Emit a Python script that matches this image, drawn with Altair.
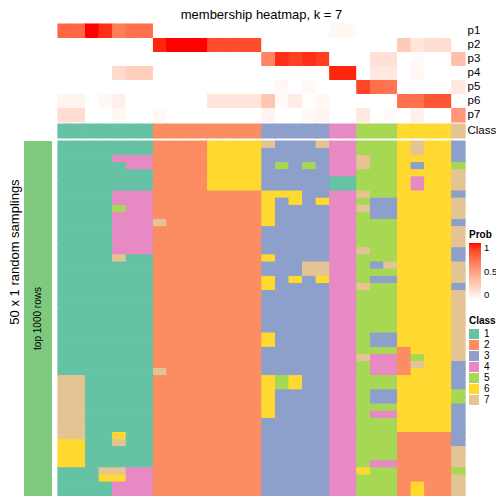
import altair as alt
import pandas as pd

FONT = "Liberation Sans"

# class of each of the 30 samples (columns) in the "Class" annotation row
col_class = "111111122222222333334455566667"

# membership probabilities p1..p7 for the 30 columns
p1 = [0.76, 0.76, 1.00, 0.94, 0.66, 0.72, 0.72, 0, 0, 0, 0, 0, 0, 0, 0,
      0, 0, 0, 0, 0, 0.04, 0.04, 0, 0, 0, 0, 0, 0, 0, 0]
p2 = [0, 0, 0, 0, 0, 0, 0, 0.96, 1.00, 1.00, 1.00, 0.86, 0.86, 0.86, 0.86,
      0, 0, 0, 0, 0, 0, 0, 0, 0, 0, 0.28, 0.14, 0.18, 0.18, 0]
p3 = [0, 0, 0, 0, 0, 0, 0, 0, 0, 0, 0, 0, 0, 0, 0,
      0.62, 0.94, 0.90, 0.94, 0.90, 0, 0, 0, 0.16, 0.16, 0, 0.02, 0, 0, 0.34]
p4 = [0, 0, 0, 0, 0.20, 0.26, 0.26, 0, 0, 0, 0, 0, 0, 0, 0,
      0, 0, 0, 0, 0, 0.96, 0.96, 0, 0.12, 0.12, 0, 0.04, 0, 0, 0]
p5 = [0, 0, 0, 0, 0, 0, 0, 0, 0, 0, 0, 0, 0, 0, 0,
      0, 0.04, 0, 0.03, 0, 0, 0, 0.88, 0.72, 0.70, 0, 0, 0, 0, 0.12]
p6 = [0.06, 0.06, 0, 0.04, 0.08, 0, 0, 0, 0, 0, 0, 0.14, 0.14, 0.14, 0.14,
      0.30, 0.02, 0.10, 0, 0.04, 0, 0, 0, 0, 0, 0.72, 0.72, 0.82, 0.82, 0]
p7 = [0.18, 0.18, 0, 0, 0.04, 0, 0, 0.04, 0, 0, 0, 0, 0, 0, 0,
      0.06, 0, 0, 0.03, 0.06, 0, 0, 0.12, 0, 0.02, 0, 0.08, 0, 0, 0.54]
prob_names = ["p1", "p2", "p3", "p4", "p5", "p6", "p7"]
prob_values = [p1, p2, p3, p4, p5, p6, p7]

# class assigned in each of the 50 random samplings (rows) for the 30 columns
samplings = [
    "1111111 22226666 73337 44 555 6766 3",
    "1111111 22226666 33333 44 555 6766 3",
    "1111444 22226666 33333 44 755 6666 3",
    "1111144 22226666 35353 44 755 6366 5",
    "1111111 22226666 33333 44 555 6666 7",
    "1111111 22226666 33333 11 555 6466 7",
    "1111111 22226666 33333 11 555 6466 7",
    "1111444 22222222 66633 44 755 6666 3",
    "1111444 22222222 63636 44 533 6666 7",
    "1111544 22222222 63333 44 733 6666 7",
    "1111444 22222222 63333 44 533 6666 7",
    "1111444 72222222 63333 44 555 6666 3",
    "1111444 22222222 33333 44 555 6666 7",
    "1111444 22222222 33333 44 555 6666 7",
    "1111444 22222222 33333 44 555 6666 7",
    "1111444 22222222 33333 44 755 6666 3",
    "1111711 22222222 63333 44 555 6666 3",
    "1111111 22222222 33377 44 537 6666 7",
    "1111111 22222222 33377 44 555 6666 7",
    "1111111 22222222 63636 44 533 6666 7",
    "1111111 22222222 63333 44 755 6666 3",
    "1111111 22222222 33333 44 555 6666 7",
    "1111111 22222222 33333 44 555 6666 7",
    "1111111 22222222 33333 44 555 6666 7",
    "1111111 22222222 33333 44 555 6666 7",
    "1111111 22222222 33333 44 555 6666 7",
    "1111111 22222222 33333 44 555 6666 7",
    "1111111 22222222 63333 44 533 6666 7",
    "1111111 22222222 63333 44 533 6666 7",
    "1111111 22222222 33333 44 555 2666 7",
    "1111111 22222222 33333 44 744 2566 7",
    "1111111 22222222 33333 44 544 2766 3",
    "1111111 72222222 33333 44 544 2666 3",
    "7711111 22222222 65633 44 555 6666 3",
    "7711111 22222222 65633 44 555 6666 3",
    "7711111 22222222 63333 44 533 6666 5",
    "7711111 22222222 63333 44 533 6666 5",
    "7711111 22222222 63333 44 555 6666 3",
    "7711111 22222222 63333 44 544 6666 3",
    "7711111 22222222 33333 44 555 6666 3",
    "7711111 22222222 33333 44 555 6666 3",
    "7711611 22222222 33333 44 555 2222 3",
    "6611711 22222222 33333 44 555 2222 3",
    "6611111 22222222 33333 44 555 2222 7",
    "6611111 22222222 33333 44 555 2222 7",
    "6611111 22222222 33333 44 544 2222 7",
    "1117744 22222222 33333 44 655 2222 5",
    "1116644 22222222 33333 44 555 2222 7",
    "1111444 22222222 33333 44 555 2622 7",
    "1111444 22222222 33333 44 555 2622 7",
]

class_names = ["1", "2", "3", "4", "5", "6", "7"]
class_colors = ["#66C2A5", "#FC8D62", "#8DA0CB", "#E78AC3",
                "#A6D854", "#FFD92F", "#E5C494"]

title_text = "membership heatmap, k = 7"
row_title_text = "50 x 1 random samplings"
anno_text = "top 1000 rows"

# ---------------- tables ----------------
n_cols = len(col_class)
memb_recs = []
for k, vals in enumerate(prob_values):
    for c, v in enumerate(vals):
        memb_recs.append({"c0": c, "c1": c + 1, "y0": k, "y1": k + 1, "prob": v})
memb_df = pd.DataFrame(memb_recs)

GAP = 2 / 14  # gap between p7 row and Class row (in row units)
cls_df = pd.DataFrame([{"c0": c, "c1": c + 1, "y0": 7 + GAP, "y1": 8 + GAP, "cls": ch}
                       for c, ch in enumerate(col_class)])

main_recs = []
for r, s in enumerate(samplings):
    s = s.replace(" ", "")
    c = 0
    while c < len(s):
        e = c
        while e + 1 < len(s) and s[e + 1] == s[c]:
            e += 1
        main_recs.append({"c0": c, "c1": e + 1, "r0": r, "r1": r + 1, "cls": s[c]})
        c = e + 1
main_df = pd.DataFrame(main_recs)

lab_df = pd.DataFrame({"lab": prob_names + ["Class"],
                       "ym": [k + 0.5 for k in range(7)] + [7.5 + GAP]})

# ---------------- scales ----------------
W, H = 407, 472
xs = alt.Scale(domain=[0, n_cols], range=[0, W], nice=False, zero=False)
ys_top = alt.Scale(domain=[0, 7], range=[0, 98], nice=False, zero=False)
ys_main = alt.Scale(domain=[0, len(samplings)], range=[117, H], nice=False, zero=False)
cls_scale = alt.Scale(domain=class_names, range=class_colors)
prob_scale = alt.Scale(domain=[0, 1], range=["#FFFFFF", "#FF0000"], interpolate="lab")

XE = dict(x=alt.X("c0:Q", scale=xs, axis=None), x2="c1:Q")

# under-strokes (drawn first) hide anti-aliasing seams between cells
memb_under = alt.Chart(memb_df).mark_rect(filled=False, strokeWidth=1.2).encode(
    **XE, y=alt.Y("y0:Q", scale=ys_top, axis=None), y2="y1:Q",
    stroke=alt.Stroke("prob:Q", scale=prob_scale, legend=None))

memb = alt.Chart(memb_df).mark_rect(strokeWidth=0).encode(
    **XE, y=alt.Y("y0:Q", scale=ys_top, axis=None), y2="y1:Q",
    color=alt.Color("prob:Q", scale=prob_scale,
                    legend=alt.Legend(title="Prob", type="gradient", orient="none",
                                      legendX=411, legendY=206,
                                      direction="vertical", gradientLength=57,
                                      gradientThickness=12, gradientStrokeWidth=0,
                                      values=[0, 0.5, 1], format="~g", titleFontSize=10,
                                      titleFont=FONT, titleFontWeight="bold",
                                      titleColor="black", labelFont=FONT,
                                      labelFontSize=9.5, labelColor="black",
                                      labelOffset=3, titlePadding=3, padding=0)),
)

cls_under = alt.Chart(cls_df).mark_rect(filled=False, strokeWidth=1.2).encode(
    **XE, y=alt.Y("y0:Q", scale=ys_top, axis=None), y2="y1:Q",
    stroke=alt.Stroke("cls:N", scale=cls_scale, legend=None))

cls_top = alt.Chart(cls_df).mark_rect(strokeWidth=0).encode(
    **XE, y=alt.Y("y0:Q", scale=ys_top, axis=None), y2="y1:Q",
    color=alt.Color("cls:N", scale=cls_scale, legend=None),
)

main_under = alt.Chart(main_df).mark_rect(filled=False, strokeWidth=1.2).encode(
    **XE, y=alt.Y("r0:Q", scale=ys_main, axis=None), y2="r1:Q",
    stroke=alt.Stroke("cls:N", scale=cls_scale, legend=None))

main = alt.Chart(main_df).mark_rect(strokeWidth=0).encode(
    **XE, y=alt.Y("r0:Q", scale=ys_main, axis=None), y2="r1:Q",
    color=alt.Color("cls:N", scale=cls_scale,
                    legend=alt.Legend(title="Class", orient="none", legendX=411, legendY=292,
                                      symbolType="square", symbolSize=100,
                                      symbolStrokeWidth=0, titleFontSize=10,
                                      titleFont=FONT, titleFontWeight="bold",
                                      titleColor="black", labelFont=FONT,
                                      labelFontSize=10, labelColor="black",
                                      labelOffset=5, rowPadding=1, titlePadding=3,
                                      padding=0)),
)

bar = alt.Chart(pd.DataFrame({"r0": [0], "r1": [len(samplings)]})).mark_rect(
    color="#7FC97F").encode(
    x=alt.value(-34), x2=alt.value(-6),
    y=alt.Y("r0:Q", scale=ys_main, axis=None), y2="r1:Q",
)

labels = alt.Chart(lab_df).mark_text(align="left", baseline="middle", fontSize=11.5,
                                     font=FONT, color="black").encode(
    x=alt.value(409.5), y=alt.Y("ym:Q", scale=ys_top, axis=None), text="lab:N")

title = alt.Chart(pd.DataFrame({"t": [title_text]})).mark_text(
    align="center", baseline="middle", fontSize=13, font=FONT, color="black").encode(
    x=alt.value(W / 2), y=alt.value(-9), text="t:N")

row_title = alt.Chart(pd.DataFrame({"t": [row_title_text]})).mark_text(
    align="center", baseline="middle", fontSize=13, font=FONT, color="black",
    angle=270).encode(x=alt.value(-43), y=alt.value(228), text="t:N")

anno = alt.Chart(pd.DataFrame({"t": [anno_text], "ym": [len(samplings) / 2]})).mark_text(
    align="center", baseline="middle", fontSize=10, font=FONT, color="black",
    angle=270).encode(x=alt.value(-20), y=alt.Y("ym:Q", scale=ys_main, axis=None),
                      text="t:N")

chart = alt.layer(memb_under, memb, cls_under, cls_top, main_under, main, bar,
                  labels, title, row_title, anno).resolve_scale(
    y="independent", color="independent", stroke="independent"
).properties(
    width=W, height=H,
    padding={"left": 50, "top": 16, "right": 31, "bottom": 0},
    autosize=alt.AutoSizeParams(type="none"),
).configure_view(stroke=None)

chart.save("out.html", embed_options={"renderer": "svg", "actions": False})
